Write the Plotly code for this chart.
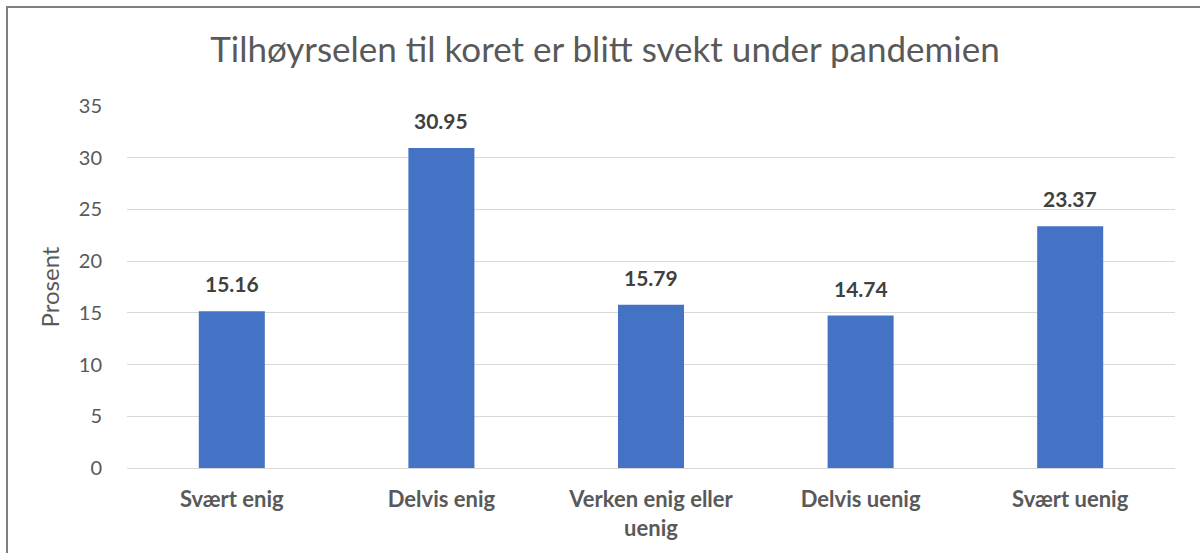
import plotly.graph_objects as go

categories = ["Svært enig", "Delvis enig", "Verken enig eller<br>uenig", "Delvis uenig", "Svært uenig"]
values = [15.16, 30.95, 15.79, 14.74, 23.37]
title_text = "Tilhøyrselen til koret er blitt svekt under pandemien"
y_title = "Prosent"
y_ticks = [0, 5, 10, 15, 20, 25, 30, 35]

W, H = 1200, 553
ml, mr, mt, mb = 127, 25, 106, 85
pw, ph = W - ml - mr, H - mt - mb

fig = go.Figure()
fig.add_trace(go.Bar(x=categories, y=values, marker_color="#4472C4", marker_line_width=0,
                     hoverinfo="skip"))

for c, v in zip(categories, values):
    fig.add_annotation(x=c, y=v, text=f"<b>{v:.2f}</b>", showarrow=False, yanchor="bottom",
                       yshift=13, font=dict(family="Lato", size=21, color="#404040"))

def px_x(p):
    return (p - ml) / pw

def px_y(p):
    return (H - mb - p) / ph

fig.add_shape(type="rect", xref="paper", yref="paper",
              x0=px_x(7), x1=px_x(1215), y0=px_y(570), y1=px_y(7),
              line=dict(color="#7f7f7f", width=2), fillcolor="rgba(0,0,0,0)", layer="below")

fig.update_layout(
    width=W, height=H,
    margin=dict(l=ml, r=mr, t=mt, b=mb),
    paper_bgcolor="white", plot_bgcolor="white",
    bargap=0.685,
    showlegend=False,
    title=dict(text=title_text, x=(605 / W), xref="container", xanchor="center", y=1 - 50 / H, yanchor="middle",
               font=dict(family="Lato", size=35, color="#595959")),
    font=dict(family="Lato", color="#595959"),
    xaxis=dict(showgrid=False, showline=False, ticks="", zeroline=False,
               tickfont=dict(family="Lato", size=22, color="#595959"), ticklabelstandoff=16,
               tickprefix="<b>", ticksuffix="</b>"),
    yaxis=dict(range=[0, 35], tickvals=y_ticks, showgrid=True, gridcolor="#d9d9d9", gridwidth=1.3,
               zeroline=True, zerolinecolor="#d9d9d9", zerolinewidth=1.3, showline=False,
               tickfont=dict(family="Lato", size=20, color="#595959"), ticklabelstandoff=24,
               title=dict(text=y_title, font=dict(family="Lato", size=24, color="#595959"), standoff=12)),
)

fig.write_html("out.html", config={"displayModeBar": False},
               post_script="document.body.style.margin='0';")
